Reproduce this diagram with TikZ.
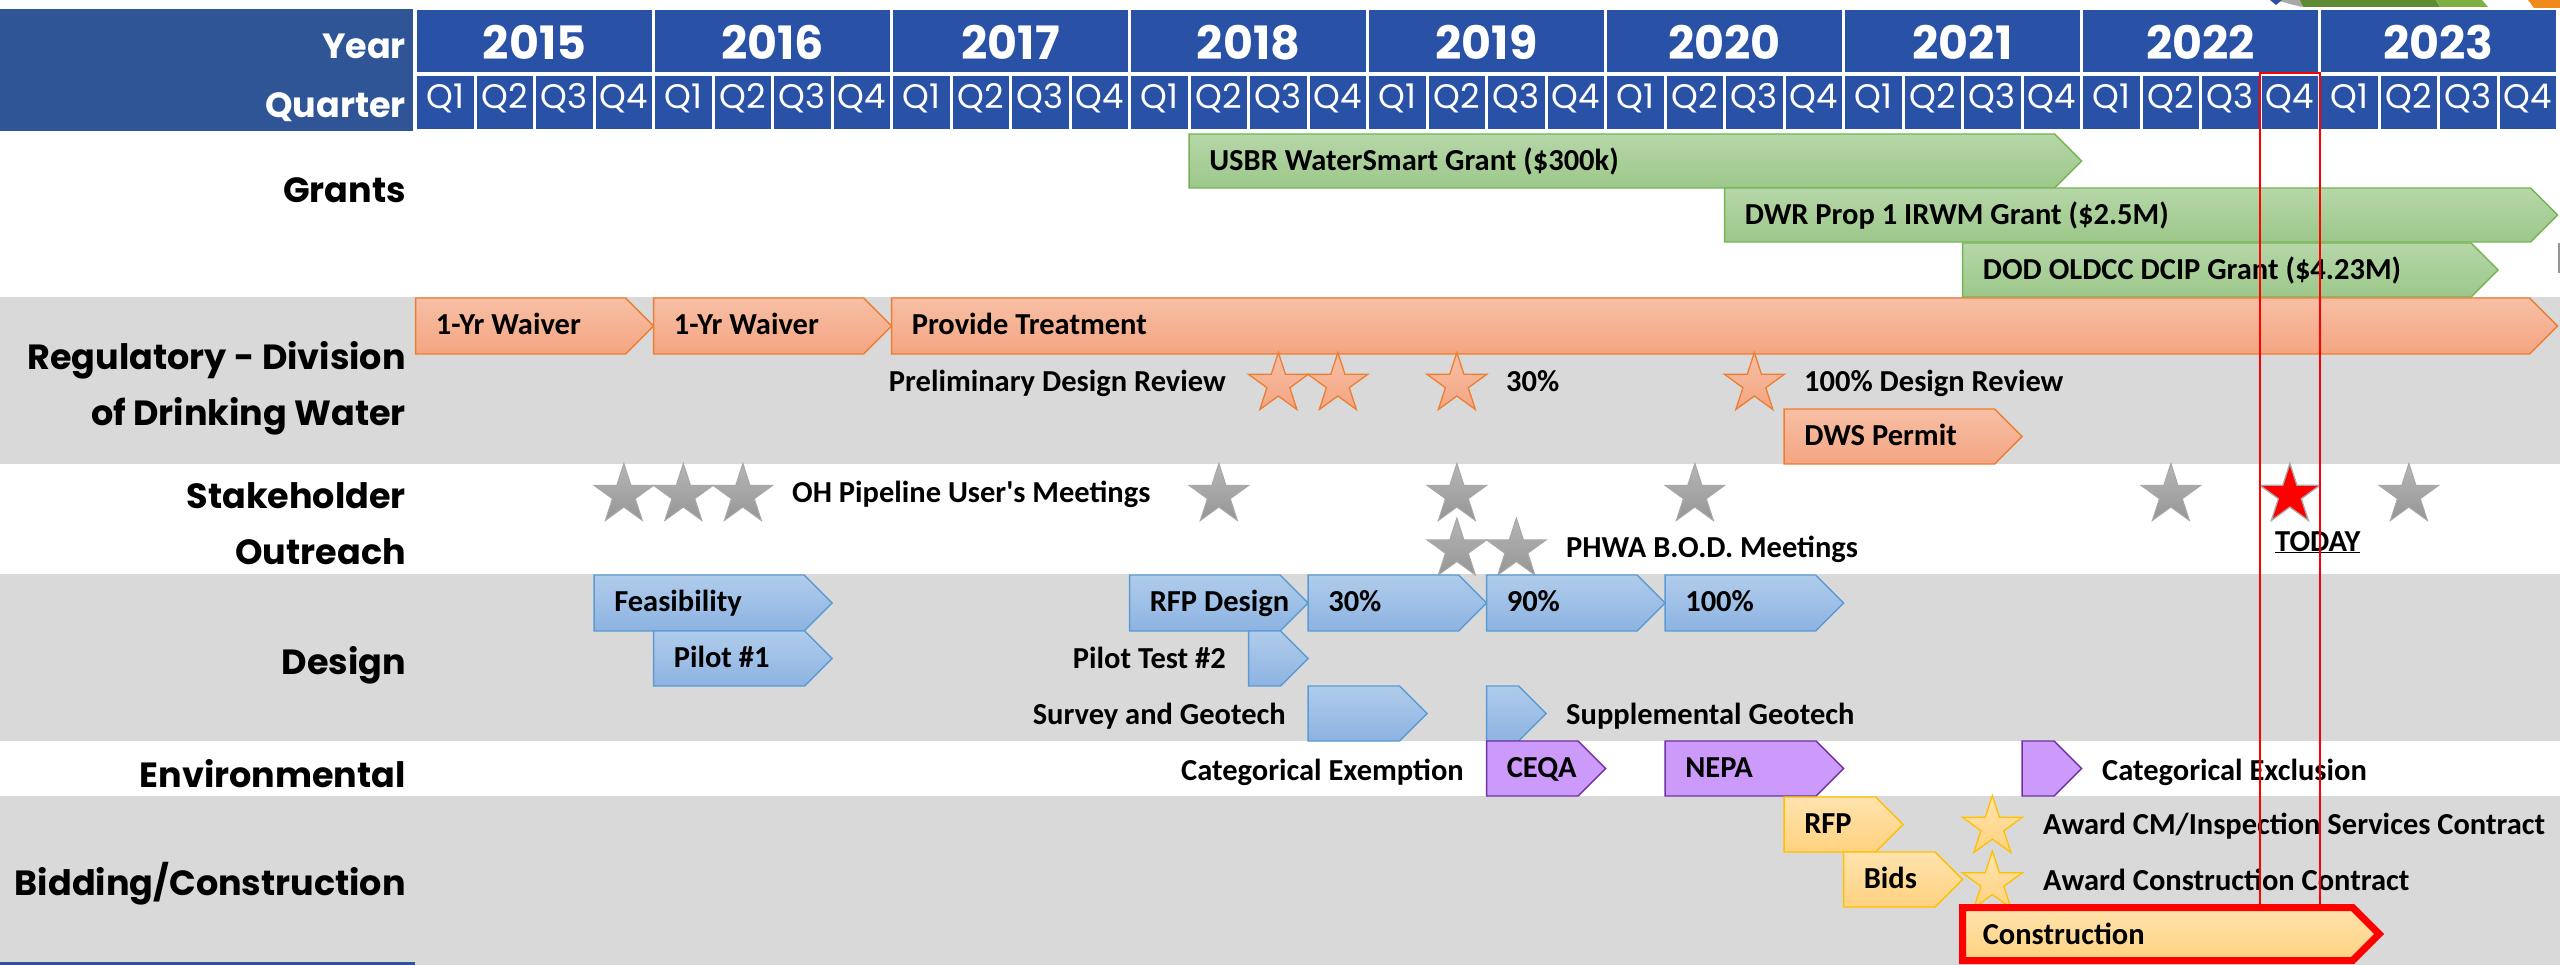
\documentclass[tikz,border=0pt]{standalone}
\usepackage{fontspec}
\setmainfont{Carlito}
\newfontfamily\labfont{Poppins}
\usetikzlibrary{shapes.geometric}

\definecolor{hdrL}{HTML}{2F5597}
\definecolor{hdrC}{HTML}{2951A5}
\definecolor{rowG}{HTML}{D9D9D9}
\definecolor{grnT}{HTML}{B6D7A8}
\definecolor{grnB}{HTML}{9CC78A}
\definecolor{grnD}{HTML}{77B355}
\definecolor{orT}{HTML}{F7BFA5}
\definecolor{orB}{HTML}{F4A582}
\definecolor{orD}{HTML}{ED7D31}
\definecolor{blT}{HTML}{B0CCEB}
\definecolor{blB}{HTML}{8DB3E2}
\definecolor{blD}{HTML}{5B9BD5}
\definecolor{puF}{HTML}{CC9AFB}
\definecolor{puD}{HTML}{7030A0}
\definecolor{yeT}{HTML}{FFE3AE}
\definecolor{yeB}{HTML}{FFD27F}
\definecolor{yeD}{HTML}{FFC000}
\definecolor{gsT}{HTML}{B5B5B5}
\definecolor{gsB}{HTML}{969696}
\definecolor{gsD}{HTML}{A8A8A8}
\definecolor{todayR}{HTML}{FF0000}
\definecolor{logoG}{HTML}{5E8A32}
\definecolor{logoL}{HTML}{7DB040}
\definecolor{logoO}{HTML}{F08A1C}

\newcommand{\gbar}[7]{%
  \pgfmathsetmacro\gbxa{415.6+59.5*#3}%
  \pgfmathsetmacro\gbxb{415.6+59.5*#4}%
  \pgfmathsetmacro\gbtip{(#6-#5)/2}%
  \pgfmathsetmacro\gbym{(#5+#6)/2}%
  \path[#2] (\gbxa,#5) -- ({\gbxb-\gbtip},#5) -- (\gbxb,\gbym) -- ({\gbxb-\gbtip},#6) -- (\gbxa,#6) -- cycle;
  \node[bartext] (#1) at ({\gbxa+20},{#5+36.5}) {#7};%
}

\begin{document}
\begin{tikzpicture}[x=1pt,y=-1pt,
  rowlabel/.style={font=\labfont\bfseries\fontsize{35}{38}\selectfont, anchor=base east, inner sep=0pt},
  hdrlabel/.style={rowlabel, text=white},
  yearlabel/.style={font=\labfont\bfseries\fontsize{46}{48}\selectfont, text=white, anchor=base, inner sep=0pt},
  qlabel/.style={font=\labfont\fontsize{34}{36}\selectfont, text=white, anchor=base, inner sep=0pt},
  bartext/.style={font=\bfseries\fontsize{30.5}{32}\selectfont, anchor=base west, inner sep=0pt},
  notew/.style={bartext, anchor=base west},
  notee/.style={bartext, anchor=base east},
  green bar/.style={top color=grnT, bottom color=grnB, draw=grnD, line width=1.3pt},
  orange bar/.style={top color=orT, bottom color=orB, draw=orD, line width=1.3pt},
  blue bar/.style={top color=blT, bottom color=blB, draw=blD, line width=1.3pt},
  purple bar/.style={fill=puF, draw=puD, line width=1.3pt},
  yellow bar/.style={top color=yeT, bottom color=yeB, draw=yeD, line width=1.3pt},
  constr bar/.style={top color=yeT, bottom color=yeB, draw=todayR, line width=7pt, line join=miter},
  mstar/.style={star, star points=5, star point ratio=2.618, minimum size=63pt, inner sep=0pt},
  ostar/.style={mstar, top color=orT, bottom color=orB, draw=orD, line width=1.3pt},
  gstar/.style={mstar, top color=gsT, bottom color=gsB, draw=gsD, line width=1pt},
  rstar/.style={mstar, fill=todayR, draw=gsD, line width=1.3pt},
  ystar/.style={mstar, top color=yeT, bottom color=yeB, draw=yeD, line width=1.3pt},
  todayline/.style={draw=todayR, line width=2.5pt},
]
\useasboundingbox (0,0) rectangle (2560,965);
\fill[white] (0,0) rectangle (2560,965);

% logo fragments top right
\fill[gsD] (2276,0) -- (2302,0) -- (2302,7) -- (2290,4) -- cycle;
\fill[hdrC] (2270,0) -- (2282,0) -- (2276,5) -- cycle;
\fill[logoG] (2300,0) -- (2436,0) -- (2440,7) -- (2303,7) -- cycle;
\fill[logoL] (2436,0) -- (2482,0) -- (2488,7) -- (2440,7) -- cycle;
\fill[logoO] (2528,0) -- (2560,0) -- (2560,8) -- (2534,8) -- cycle;

% row backgrounds
\fill[rowG] (0,297) rectangle (2560,464);
\fill[rowG] (0,574) rectangle (2560,741);
\fill[rowG] (0,796) rectangle (2560,965);
\fill[hdrL] (0,962) rectangle (415,965);
\fill[gsB] (2558,243) rectangle (2560,273);

% header
\fill[hdrL] (0,9) rectangle (413,131);
\node[hdrlabel] (lyear) at (406,59) {Year};
\node[hdrlabel] (lquarter) at (406,118) {Quarter};
\foreach \yr [count=\i from 0] in {2015,2016,...,2023}{
  \fill[hdrC] ({415.6+238*\i+1.5},10) rectangle ({415.6+238*(\i+1)-1.5},72);
  \node[yearlabel] (y\yr) at ({415.6+238*(\i+0.5)},60) {\yr};
  \foreach \q in {1,2,3,4}{
    \fill[hdrC] ({415.6+238*\i+59.5*(\q-1)+1.5},76) rectangle ({415.6+238*\i+59.5*\q-1.5},129.5);
    \node[qlabel] (q\yr-\q) at ({415.6+238*\i+59.5*(\q-0.5)},109) {Q\q};
  }
}

% row labels
\node[rowlabel] (lgrants) at (406,203) {Grants};
\node[rowlabel] (lreg1) at (406,370) {Regulatory - Division};
\node[rowlabel] (lreg2) at (406,426) {of Drinking Water};
\node[rowlabel] (lsh1) at (406,508) {Stakeholder};
\node[rowlabel] (lsh2) at (406,564) {Outreach};
\node[rowlabel] (ldes) at (406,674) {Design};
\node[rowlabel] (lenv) at (406,787) {Environmental};
\node[rowlabel] (lbid) at (406,895) {Bidding/Construction};

% grants
\gbar{usbr}{green bar}{13}{28}{134}{188}{USBR WaterSmart Grant (\$300k)}
\gbar{dwr}{green bar}{22}{36}{188}{242}{DWR Prop 1 IRWM Grant (\$2.5M)}
\gbar{dod}{green bar}{26}{35}{243}{297}{DOD OLDCC DCIP Grant (\$4.23M)}

% regulatory
\gbar{waiverA}{orange bar}{0}{4}{298}{354}{1-Yr Waiver}
\gbar{waiverB}{orange bar}{4}{8}{298}{354}{1-Yr Waiver}
\gbar{treat}{orange bar}{8}{36}{298}{354}{Provide Treatment}
\gbar{dws}{orange bar}{23}{27}{409}{464}{DWS Permit}
\node[ostar] (pdr1) at ({415.6+59.5*14.5},384) {};
\node[ostar] (pdr2) at ({415.6+59.5*15.5},384) {};
\node[ostar] (dr30) at ({415.6+59.5*17.5},384) {};
\node[ostar] (dr100) at ({415.6+59.5*22.5},384) {};
\node[notee] (tpdr) at (1226,392) {Preliminary Design Review};
\node[notew] (t30) at (1506,392) {30\%};
\node[notew] (t100) at (1804,392) {100\% Design Review};

% stakeholder outreach
\foreach \t [count=\n] in {3.5,4.5,5.5,13.5,17.5,21.5,29.5,33.5}{
  \node[gstar] (oh\n) at ({415.6+59.5*\t},495) {};
}
\node[gstar] (bod1) at ({415.6+59.5*17.5},549.5) {};
\node[gstar] (bod2) at ({415.6+59.5*18.5},549.5) {};
\node[rstar] (today) at ({415.6+59.5*31.5},495) {};
\node[notew] (toh) at (792,502) {OH Pipeline User\textquotesingle s Meetings};
\node[notew] (tbod) at (1566,557) {PHWA B.O.D. Meetings};
\node[notew] (ttoday) at (2275,551) {\underline{TODAY}};

% design
\gbar{feas}{blue bar}{3}{7}{575}{631}{Feasibility}
\gbar{pilot1}{blue bar}{4}{7}{631}{686}{Pilot \#1}
\gbar{rfpd}{blue bar}{12}{15}{575}{631}{RFP Design}
\gbar{d30}{blue bar}{15}{18}{575}{631}{30\%}
\gbar{d90}{blue bar}{18}{21}{575}{631}{90\%}
\gbar{d100}{blue bar}{21}{24}{575}{631}{100\%}
\gbar{pilot2}{blue bar}{14}{15}{631}{686}{}
\gbar{survey}{blue bar}{15}{17}{686}{741}{}
\gbar{supgeo}{blue bar}{18}{19}{686}{741}{}
\node[notee] (tpilot2) at (1226,668) {Pilot Test \#2};
\node[notee] (tsurvey) at (1286,724) {Survey and Geotech};
\node[notew] (tsupgeo) at (1566,724) {Supplemental Geotech};

% environmental
\gbar{ceqa}{purple bar}{18}{20}{741}{796}{CEQA}
\gbar{nepa}{purple bar}{21}{24}{741}{796}{NEPA}
\gbar{catex}{purple bar}{27}{28}{741}{796}{}
\node[notee] (tcatexm) at (1464,780) {Categorical Exemption};
\node[notew] (tcatexl) at (2102,780) {Categorical Exclusion};

% bidding / construction
\gbar{rfpb}{yellow bar}{23}{25}{797}{852}{RFP}
\gbar{bids}{yellow bar}{24}{26}{852}{907}{Bids}
\node[ystar] (awcm) at ({415.6+59.5*26.5},827) {};
\node[ystar] (awcc) at ({415.6+59.5*26.5},882.5) {};
\node[notew] (tawcm) at (2043,834) {Award CM/Inspection Services Contract};
\node[notew] (tawcc) at (2043,890) {Award Construction Contract};

% today box
\coordinate (todayTL) at (2260,73);
\coordinate (todayTR) at (2320,73);
\coordinate (todayBL) at (2260,904);
\coordinate (todayBR) at (2320,904);
\draw[todayline] (todayBL) -- (todayTL) -- (todayTR) -- (todayBR);

\gbar{constr}{constr bar}{26}{33}{907.5}{960.5}{Construction}
\end{tikzpicture}
\end{document}
